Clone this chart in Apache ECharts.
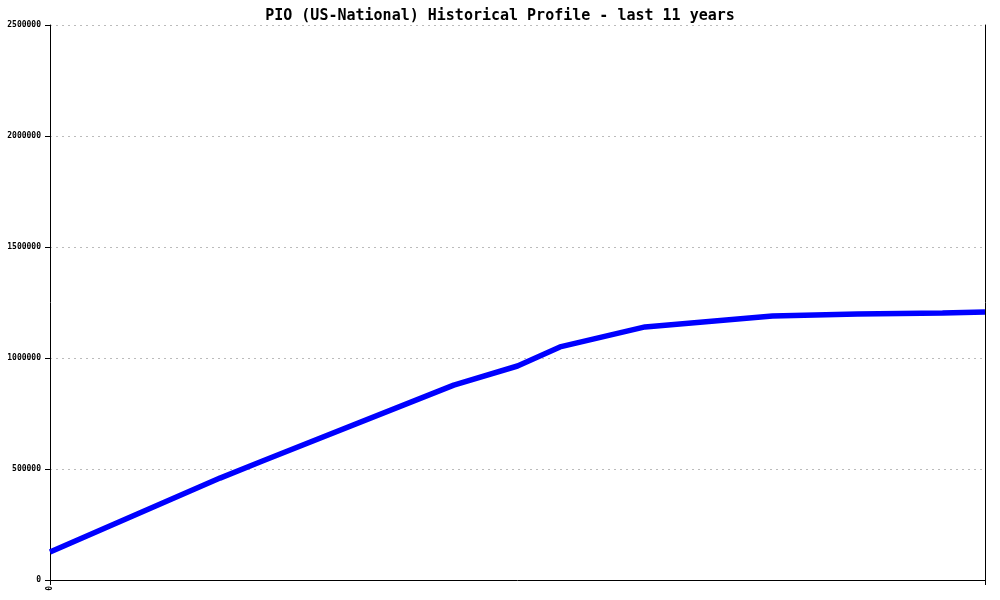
<!DOCTYPE html>
<html>
<head>
<meta charset="utf-8">
<script src="https://cdn.jsdelivr.net/npm/echarts@6/dist/echarts.min.js"></script>
<style>html,body{margin:0;padding:0;background:#fff}#c{width:1000px;height:600px}</style>
</head>
<body>
<div id="c"></div>
<script>
const titleText = "PIO (US-National) Historical Profile - last 11 years";
// months since start of the 11-year window
const months = [0, 24, 30, 57, 66, 72, 84, 102, 114, 126, 132];
const values = [126000, 459000, 536000, 878000, 964000, 1050000, 1140000, 1189000, 1198000, 1203000, 1207000];
const yTicks = [0, 500000, 1000000, 1500000, 2000000, 2500000];

const mono = "DejaVu Sans Mono";
const chart = echarts.init(document.getElementById('c'), null, {renderer: 'canvas'});
chart.setOption({
  animation: false,
  backgroundColor: '#ffffff',
  title: {
    text: titleText, left: 'center', top: 4,
    textStyle: {fontFamily: mono, fontSize: 15, fontWeight: 'bold', color: '#000'}
  },
  grid: {left: 50, right: 15, top: 25, bottom: 20, containLabel: false},
  xAxis: {
    type: 'value', min: 0, max: 132, interval: 132,
    axisLine: {lineStyle: {color: '#000', width: 1}},
    axisTick: {show: true, length: 5, lineStyle: {color: '#000'}},
    splitLine: {show: false},
    axisLabel: {
      rotate: 90, margin: 6, fontFamily: mono, fontSize: 8, fontWeight: 'bold', color: '#000',
      formatter: v => (v === months[0] ? '0' : '')
    }
  },
  yAxis: [{
    type: 'value', min: yTicks[0], max: yTicks[yTicks.length - 1], interval: yTicks[1] - yTicks[0],
    axisLine: {show: true, lineStyle: {color: '#000', width: 1}},
    axisTick: {show: true, length: 5, lineStyle: {color: '#000'}},
    axisLabel: {fontFamily: mono, fontSize: 8, fontWeight: 'bold', color: '#000', margin: 9,
      formatter: v => String(v)},
    splitLine: {show: true, lineStyle: {color: '#bbbbbb', type: [2, 4], width: 1}}
  }, {
    type: 'value', position: 'right', min: yTicks[0], max: yTicks[yTicks.length - 1],
    axisLine: {show: true, lineStyle: {color: '#000', width: 1}},
    axisTick: {show: false}, axisLabel: {show: false}, splitLine: {show: false}
  }],
  series: [{
    type: 'line',
    data: months.map((m, i) => [m, values[i]]),
    showSymbol: false, smooth: false,
    lineStyle: {color: '#0000ff', width: 5.5},
    itemStyle: {color: '#0000ff'}
  }]
});
</script>
</body>
</html>
